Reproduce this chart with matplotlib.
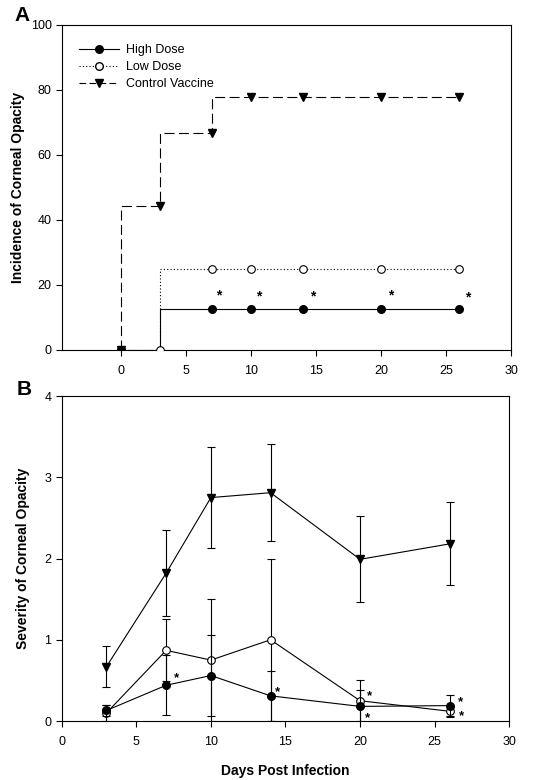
import matplotlib
matplotlib.use("Agg")
import matplotlib.pyplot as plt
from matplotlib.lines import Line2D

plt.rcParams['font.family'] = ['Liberation Sans', 'DejaVu Sans']

# ---- Panel A data: incidence (%) ----
a_days = [0, 3, 7, 10, 14, 20, 26]
a_high = [0, 0, 12.5, 12.5, 12.5, 12.5, 12.5]
a_low = [0, 0, 25, 25, 25, 25, 25]
a_ctrl = [0, 44.4, 66.7, 77.8, 77.8, 77.8, 77.8]
a_star_x = [7.5, 10.6, 14.7, 20.7, 26.7]
a_star_y = [16.7, 16.5, 16.5, 16.7, 16.1]

# ---- Panel B data: severity ----
b_days = [3, 7, 10, 14, 20, 26]
b_high = [0.13, 0.44, 0.56, 0.31, 0.18, 0.19]
b_high_err = [0.07, 0.37, 0.50, 0.31, 0.20, 0.13]
b_low = [0.10, 0.87, 0.75, 1.00, 0.25, 0.12]
b_low_err = [0.10, 0.38, 0.75, 1.00, 0.25, 0.07]
b_ctrl = [0.67, 1.82, 2.75, 2.81, 1.99, 2.18]
b_ctrl_err = [0.25, 0.53, 0.62, 0.60, 0.53, 0.51]
b_star_x = [7.7, 14.45, 20.65, 20.5, 26.75, 26.8]
b_star_y = [0.53, 0.36, 0.30, 0.03, 0.23, 0.06]

fig = plt.figure(figsize=(5.4, 7.8), dpi=100)

ms = 5.5
lw = 0.8

# ---------- Panel A ----------
axA = fig.add_axes([0.1148, 0.5513, 0.8315, 0.4167])
axA.plot(a_days, a_ctrl, drawstyle='steps-pre', color='black', lw=lw,
         linestyle=(0, (9, 4)), zorder=2)
axA.plot(a_days, a_ctrl, linestyle='none', marker='v', ms=ms + 0.7,
         color='black', zorder=4)
axA.plot(a_days, a_low, drawstyle='steps-pre', color='black', lw=lw,
         linestyle=(0, (1, 2)), zorder=2)
axA.plot(a_days, a_low, linestyle='none', marker='o', ms=ms,
         mfc='white', mec='black', mew=0.8, zorder=3)
axA.plot(a_days, a_high, drawstyle='steps-pre', color='black', lw=lw,
         linestyle='-', zorder=2)
axA.plot(a_days[:1] + a_days[2:], a_high[:1] + a_high[2:], linestyle='none',
         marker='o', ms=ms, color='black', zorder=5)
for x, y in zip(a_star_x, a_star_y):
    axA.text(x, y, '*', ha='center', va='center', fontsize=10,
             fontweight='bold')
axA.set_xlim(-4.57, 30)
axA.set_ylim(0, 100)
axA.set_xticks([0, 5, 10, 15, 20, 25, 30])
axA.set_yticks([0, 20, 40, 60, 80, 100])
axA.set_ylabel('Incidence of Corneal Opacity', fontsize=10, fontweight='bold',
               labelpad=4)

handles = [
    Line2D([], [], color='black', lw=lw, linestyle='-', marker='o', ms=ms),
    Line2D([], [], color='black', lw=lw, linestyle=(0, (1, 2)), marker='o',
           ms=ms, mfc='white', mec='black'),
    Line2D([], [], color='black', lw=lw, linestyle=(0, (6, 3)), marker='v',
           ms=ms + 0.7),
]
axA.legend(handles, ['High Dose', 'Low Dose', 'Control Vaccine'],
           loc='upper left', frameon=False, fontsize=9,
           bbox_to_anchor=(0.013, 0.975), handlelength=3.2, handletextpad=0.55,
           labelspacing=0.4)
fig.text(0.027, 0.98, 'A', fontsize=15, fontweight='bold', va='center')

# ---------- Panel B ----------
axB = fig.add_axes([0.1143, 0.0756, 0.8287, 0.4167])
axB.errorbar(b_days, b_ctrl, yerr=b_ctrl_err, color='black', lw=lw,
             elinewidth=lw, capsize=3, capthick=lw, marker='v', ms=ms + 0.7,
             zorder=3)
axB.errorbar(b_days, b_low, yerr=b_low_err, color='black', lw=lw,
             elinewidth=lw, capsize=3, capthick=lw, marker='o', ms=ms,
             mfc='white', mec='black', mew=0.8, zorder=4)
axB.errorbar(b_days, b_high, yerr=b_high_err, color='black', lw=lw,
             elinewidth=lw, capsize=3, capthick=lw, marker='o', ms=ms,
             zorder=5)
for x, y in zip(b_star_x, b_star_y):
    axB.text(x, y, '*', ha='center', va='center', fontsize=9.5,
             fontweight='bold')
axB.set_xlim(0, 30)
axB.set_ylim(0, 4)
axB.set_xticks([0, 5, 10, 15, 20, 25, 30])
axB.set_yticks([0, 1, 2, 3, 4])
axB.set_ylabel('Severity of Corneal Opacity', fontsize=10, fontweight='bold',
               labelpad=10)
axB.set_xlabel('Days Post Infection', fontsize=10, fontweight='bold',
               labelpad=12)
fig.text(0.031, 0.501, 'B', fontsize=15, fontweight='bold', va='center')

for ax in (axA, axB):
    ax.tick_params(direction='out', length=4, width=0.8, labelsize=9,
                   top=False, right=False)
    ax.tick_params(axis='x', pad=6.5)
    for s in ax.spines.values():
        s.set_linewidth(0.8)

fig.savefig('out.png', dpi=100)
